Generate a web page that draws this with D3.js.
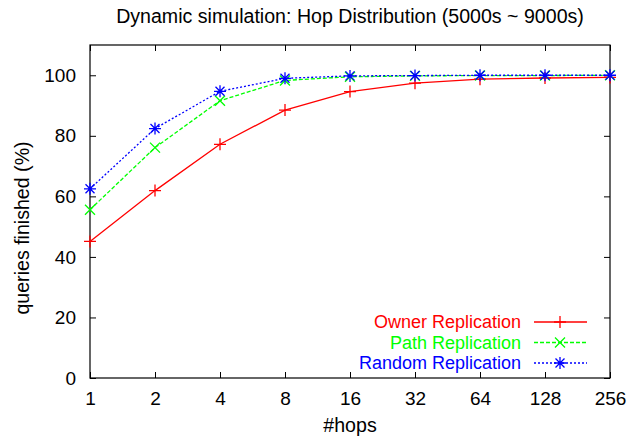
<!DOCTYPE html>
<html><head><meta charset="utf-8">
<script src="https://cdn.jsdelivr.net/npm/d3@7"></script>
<style>body{margin:0;background:#fff}svg{display:block}text{font-family:"Liberation Sans",Arial,sans-serif;fill:#000}</style>
</head><body><svg id="c" width="639" height="437"></svg>
<script>
const hops = [1, 2, 4, 8, 16, 32, 64, 128, 256];
const owner = [45.1, 61.9, 77.2, 88.5, 94.6, 97.4, 98.7, 99.1, 99.3];
const path = [55.6, 76.1, 91.6, 98.3, 99.5, 99.8, 99.9, 99.9, 100];
const random = [62.5, 82.4, 94.7, 99.0, 99.8, 99.9, 100, 100, 100];
const yTicks = [0, 20, 40, 60, 80, 100];
const seriesNames = ["Owner Replication", "Path Replication", "Random Replication"];
const seriesColors = ["#ff0000", "#00ff00", "#0000ff"];
const seriesDash = [null, "4,2", "2,2"];
const seriesMarker = ["plus", "cross", "star"];
const seriesData = [owner, path, random];

const FS = 19, FS2 = 19.6, FSL = 18;
const svg = d3.select("#c");
const L = 90, R = 610, T = 45, B = 378;
const x = d3.scaleLog().base(2).domain([1, 256]).range([L, R]);
const y = d3.scaleLinear().domain([0, 110]).range([B, T]);

// frame
svg.append("rect").attr("x", L).attr("y", T).attr("width", R - L).attr("height", B - T)
  .attr("fill", "none").attr("stroke", "#000").attr("stroke-width", 1.2);

// axes with inward ticks
const ax = svg.append("g").attr("transform", `translate(0,${B})`)
  .call(d3.axisBottom(x).tickValues(hops).tickFormat(d3.format("d")).tickSize(-6).tickPadding(14));
const axTop = svg.append("g").attr("transform", `translate(0,${T})`)
  .call(d3.axisTop(x).tickValues(hops).tickFormat("").tickSize(-6));
const ay = svg.append("g").attr("transform", `translate(${L},0)`)
  .call(d3.axisLeft(y).tickValues(yTicks).tickSize(-6).tickPadding(14));
const ayR = svg.append("g").attr("transform", `translate(${R},0)`)
  .call(d3.axisRight(y).tickValues(yTicks).tickFormat("").tickSize(-6));
[ax, axTop, ay, ayR].forEach(g => {
  g.select(".domain").remove();
  g.selectAll("line").attr("stroke", "#000");
  g.selectAll("text").attr("font-size", FS).attr("font-family", '"Liberation Sans",Arial,sans-serif').attr("fill", "#000");
});
ax.selectAll("text").attr("dy", null).attr("y", 27);

// markers
function marker(g, type, cx, cy, color) {
  const s = 6;
  const p = d3.path();
  if (type === "plus" || type === "star") {
    p.moveTo(cx - s, cy); p.lineTo(cx + s, cy);
    p.moveTo(cx, cy - s); p.lineTo(cx, cy + s);
  }
  if (type === "cross" || type === "star") {
    const k = type === "star" ? 4.5 : 5;
    p.moveTo(cx - k, cy - k); p.lineTo(cx + k, cy + k);
    p.moveTo(cx - k, cy + k); p.lineTo(cx + k, cy - k);
  }
  g.append("path").attr("d", p.toString()).attr("stroke", color).attr("stroke-width", 1.3).attr("fill", "none");
}

const line = d3.line().x(d => x(d[0])).y(d => y(d[1]));
seriesData.forEach((vals, i) => {
  const pts = hops.map((h, j) => [h, vals[j]]);
  const g = svg.append("g");
  g.append("path").attr("d", line(pts)).attr("fill", "none").attr("stroke", seriesColors[i])
    .attr("stroke-width", 1.3).attr("stroke-dasharray", seriesDash[i]);
  pts.forEach(p => marker(g, seriesMarker[i], x(p[0]), y(p[1]), seriesColors[i]));
});

// legend
const legY = [322, 342.5, 363];
seriesNames.forEach((n, i) => {
  svg.append("text").attr("x", 521).attr("y", legY[i]).attr("dy", "0.35em").attr("text-anchor", "end")
    .attr("font-size", FSL).style("fill", seriesColors[i]).text(n);
  svg.append("line").attr("x1", 534).attr("x2", 587).attr("y1", legY[i]).attr("y2", legY[i])
    .attr("stroke", seriesColors[i]).attr("stroke-width", 1.3).attr("stroke-dasharray", seriesDash[i]);
  marker(svg, seriesMarker[i], 560, legY[i], seriesColors[i]);
});

// titles
svg.append("text").attr("x", 350).attr("y", 23).attr("text-anchor", "middle")
  .attr("font-size", FS2).text("Dynamic simulation: Hop Distribution (5000s ~ 9000s)");
svg.append("text").attr("x", 350).attr("y", 432).attr("text-anchor", "middle")
  .attr("font-size", FS2).text("#hops");
svg.append("text").attr("transform", "translate(29,228) rotate(-90)")
  .attr("text-anchor", "middle").attr("font-size", FS2).text("queries finished (%)");
</script></body></html>
